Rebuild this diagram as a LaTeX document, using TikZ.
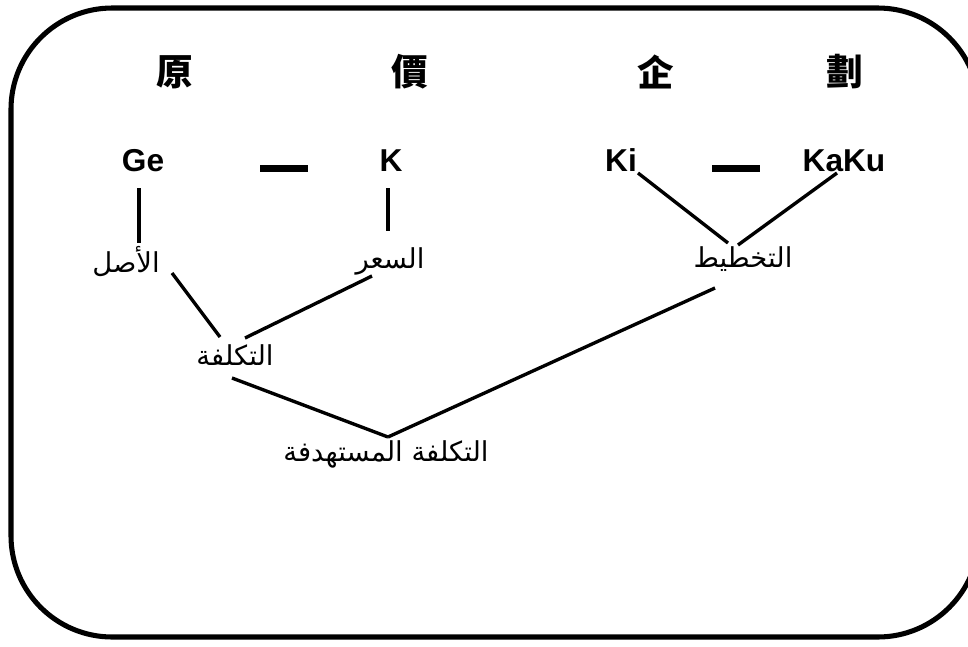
\documentclass[tikz,border=0pt]{standalone}
\usepackage{fontspec}
\setmainfont{Liberation Sans}
\newfontfamily\cjk{Noto Sans CJK TC}
\newfontfamily\arabicfont[Script=Arabic]{DejaVu Sans}
\TeXXeTstate=1
\usetikzlibrary{calc}

\begin{document}
\begin{tikzpicture}[x=0.025cm, y=-0.025cm]
\tikzset{
   hanzi/.style = {font = \cjk\bfseries\fontsize{26}{30}\selectfont, inner sep = 0},
   romaji/.style = {font = \bfseries\fontsize{22.5}{27}\selectfont, inner sep = 0, anchor = base},
   term/.style = {font = \arabicfont\fontsize{19.5}{23}\selectfont, inner sep = 0},
   bar/.style = {fill, minimum width = 34pt, minimum height = 4.5pt, inner sep = 0},
   link/.style = {line width = 2.4pt},
   frame/.style = {line width = 3.6pt, rounded corners = 72pt}
 }
  \useasboundingbox (0,0) rectangle (968,646);
  \draw[frame] (11,8) rectangle (979,637);

  % kanji row
  \node[hanzi] (gen) at (175,72) {原};
  \node[hanzi] (ka) at (410,72) {價};
  \node[hanzi] (ki_kanji) at (656,72) {企};
  \node[hanzi] (kaku_kanji) at (845,72) {劃};

  % readings
  \node[romaji] (ge) at (143,171) {Ge};
  \node[bar] (ge_k) at (284,168.5) {};
  \node[romaji] (k) at (391,171) {K};
  \node[romaji] (ki) at (621,171) {Ki};
  \node[bar] (ki_kaku) at (736,168.5) {};
  \node[romaji] (kaku) at (844,171) {KaKu};

  % meanings
  \node[term] (asl) at (126,261) {\beginR الأصل\endR};
  \node[term] (sier) at (390,261) {\beginR السعر\endR};
  \node[term] (takhtit) at (743,259) {\beginR التخطيط\endR};
  \node[term] (taklifa) at (235,355) {\beginR التكلفة\endR};
  \node[term] (target) at (386,454) {\beginR التكلفة المستهدفة\endR};

  \draw[link] ($(ge.base)+(-4,17)$) -- ($(asl)+(13,-18)$);
  \draw[link] ($(k.base)+(-3,17)$) -- ($(sier)+(-2,-30)$);
  \draw[link] ($(asl)+(46,12)$) -- ($(taklifa)+(-15,-18)$);
  \draw[link] ($(sier)+(-18,15)$) -- ($(taklifa)+(10,-17)$);
  \draw[link] ($(taklifa)+(-3,23)$) -- ($(target)+(2,-17)$);
  \draw[link] ($(takhtit)+(-28,29)$) -- ($(target)+(2,-17)$);
  \draw[link] ($(ki.base)+(17,2)$) -- ($(takhtit)+(-15,-16)$);
  \draw[link] ($(kaku.base)+(-7,2)$) -- ($(takhtit)+(-5,-14)$);

\end{tikzpicture}
\end{document}
